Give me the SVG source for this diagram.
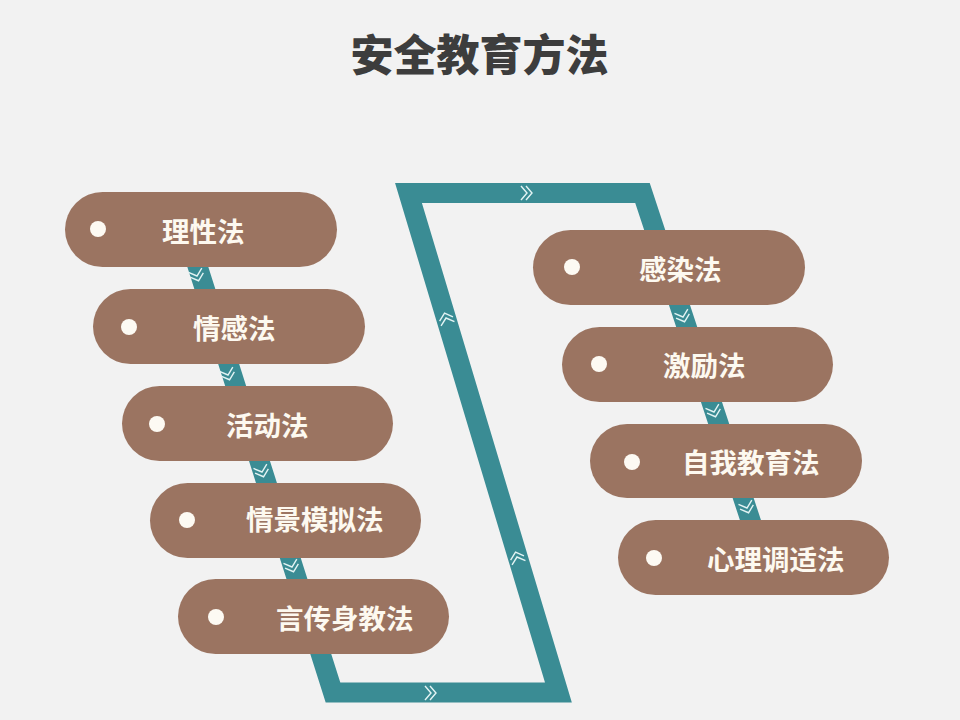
<svg xmlns="http://www.w3.org/2000/svg" width="960" height="720" viewBox="0 0 960 720">
  <style>
    .pill { fill: #9b7461; }
    .dot { fill: #fdfaf3; }
    .lbl { font-family: "Noto Sans CJK SC", "Noto Sans", sans-serif; font-size: 27.5px; font-weight: bold; fill: #fdf9f0; dominant-baseline: central; }
    .title { font-family: "Noto Sans CJK SC", "Noto Sans", sans-serif; font-size: 43px; font-weight: 900; fill: #3d3d3d; text-anchor: middle; dominant-baseline: central; }
    .band { fill: none; stroke: #3a8c94; stroke-width: 20; stroke-linejoin: miter; stroke-miterlimit: 10; }
    .chev { fill: none; stroke: #e3f4f4; stroke-width: 1.4; }
  </style>
  <defs>
    <path id="chev" class="chev" d="M-6,-7 L0,0 L-6,7 M-1,-7 L5,0 L-1,7"/>
  </defs>
  <rect width="960" height="720" fill="#f2f2f2"/>
  <text class="title" x="479.5" y="52">安全教育方法</text>

  <g id="connectors">
    <polyline class="band" points="184.5,225 333,692.5 558.4,692.5 408.5,193 642.5,193 763.6,560"/>
    <use href="#chev" transform="translate(197,276) rotate(72)"/>
    <use href="#chev" transform="translate(228,375) rotate(72)"/>
    <use href="#chev" transform="translate(262,472) rotate(72)"/>
    <use href="#chev" transform="translate(292,567) rotate(72)"/>
    <use href="#chev" transform="translate(431,693)"/>
    <use href="#chev" transform="translate(446,318) rotate(-107)"/>
    <use href="#chev" transform="translate(517,557) rotate(-107)"/>
    <use href="#chev" transform="translate(527,193)"/>
    <use href="#chev" transform="translate(683,317) rotate(72)"/>
    <use href="#chev" transform="translate(714,412) rotate(72)"/>
    <use href="#chev" transform="translate(747,508) rotate(72)"/>
  </g>

  <g id="n1"><rect class="pill" x="65" y="192" width="272" height="75" rx="37.5"/><circle class="dot" cx="98" cy="229" r="8"/><text class="lbl" x="162" y="229.5">理性法</text></g>
  <g id="n2"><rect class="pill" x="93" y="289" width="272" height="75" rx="37.5"/><circle class="dot" cx="129" cy="327" r="8"/><text class="lbl" x="193" y="327">情感法</text></g>
  <g id="n3"><rect class="pill" x="122" y="386" width="271" height="75" rx="37.5"/><circle class="dot" cx="157" cy="424" r="8"/><text class="lbl" x="226" y="424">活动法</text></g>
  <g id="n4"><rect class="pill" x="150" y="483" width="271" height="75" rx="37.5"/><circle class="dot" cx="187" cy="520" r="8"/><text class="lbl" x="246" y="518">情景模拟法</text></g>
  <g id="n5"><rect class="pill" x="178" y="579" width="271" height="75" rx="37.5"/><circle class="dot" cx="216" cy="617" r="8"/><text class="lbl" x="276" y="617">言传身教法</text></g>

  <g id="n6"><rect class="pill" x="533" y="230" width="272" height="75" rx="37.5"/><circle class="dot" cx="572" cy="267" r="8"/><text class="lbl" x="639" y="268">感染法</text></g>
  <g id="n7"><rect class="pill" x="562" y="327" width="271" height="75" rx="37.5"/><circle class="dot" cx="599" cy="364" r="8"/><text class="lbl" x="663" y="364">激励法</text></g>
  <g id="n8"><rect class="pill" x="590" y="424" width="272" height="74" rx="37"/><circle class="dot" cx="632" cy="462" r="8"/><text class="lbl" x="682" y="461">自我教育法</text></g>
  <g id="n9"><rect class="pill" x="618" y="520" width="271" height="75" rx="37.5"/><circle class="dot" cx="654" cy="558" r="8"/><text class="lbl" x="707" y="558">心理调适法</text></g>
</svg>
